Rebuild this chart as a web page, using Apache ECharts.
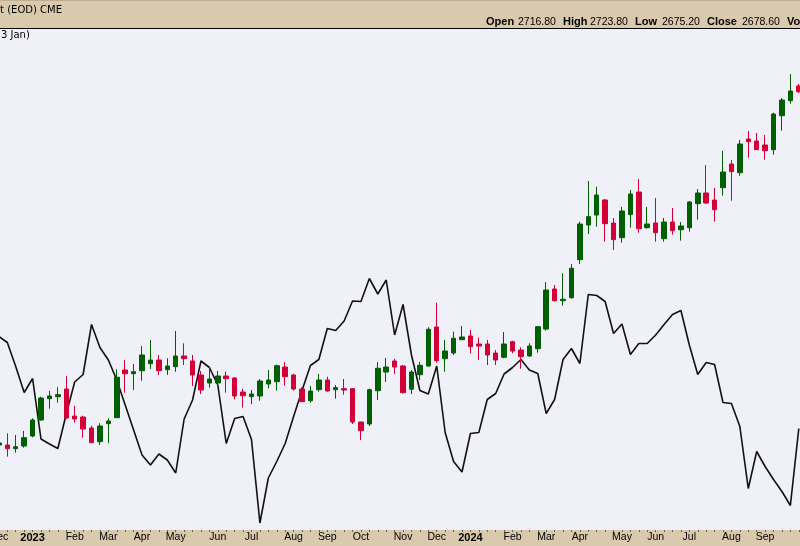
<!DOCTYPE html>
<html><head><meta charset="utf-8">
<script src="https://cdn.jsdelivr.net/npm/echarts@6/dist/echarts.min.js"></script>
<style>html,body{margin:0;padding:0;background:#f0f0f8}#c{width:800px;height:546px}</style>
</head><body><div id="c"></div>
<script>
const weeks = [
'2022-12-05','2022-12-12','2022-12-19','2022-12-26',
'2023-01-02','2023-01-09','2023-01-16','2023-01-23','2023-01-30',
'2023-02-06','2023-02-13','2023-02-20','2023-02-27',
'2023-03-06','2023-03-13','2023-03-20','2023-03-27',
'2023-04-03','2023-04-10','2023-04-17','2023-04-24',
'2023-05-01','2023-05-08','2023-05-15','2023-05-22','2023-05-29',
'2023-06-05','2023-06-12','2023-06-19','2023-06-26',
'2023-07-03','2023-07-10','2023-07-17','2023-07-24','2023-07-31',
'2023-08-07','2023-08-14','2023-08-21','2023-08-28',
'2023-09-04','2023-09-11','2023-09-18','2023-09-25',
'2023-10-02','2023-10-09','2023-10-16','2023-10-23','2023-10-30',
'2023-11-06','2023-11-13','2023-11-20','2023-11-27',
'2023-12-04','2023-12-11','2023-12-18','2023-12-25',
'2024-01-01','2024-01-08','2024-01-15','2024-01-22','2024-01-29',
'2024-02-05','2024-02-12','2024-02-19','2024-02-26',
'2024-03-04','2024-03-11','2024-03-18','2024-03-25',
'2024-04-01','2024-04-08','2024-04-15','2024-04-22','2024-04-29',
'2024-05-06','2024-05-13','2024-05-20','2024-05-27',
'2024-06-03','2024-06-10','2024-06-17','2024-06-24',
'2024-07-01','2024-07-08','2024-07-15','2024-07-22','2024-07-29',
'2024-08-05','2024-08-12','2024-08-19','2024-08-26',
'2024-09-02','2024-09-09','2024-09-16','2024-09-23','2024-09-30'];

const opens = [1812.5,1812.5,1803.3,1810,1835,1875,1928.3,1933.3,1952.5,1885,1882.5,1855,1820.8,1865.8,1880.8,2000,1990.8,1998.3,2015.8,2025,2000.8,2008.3,2035,2022.5,1987.5,1967.5,1967.5,1985,1980,1945,1933.3,1935,1965,1970.8,2007.5,1987.5,1952.5,1923.3,1950.8,1975,1950.8,1953.3,1953.3,1870,1865,1948.3,1995,2022.5,2010,1951.8,1988.3,2010,2107.5,2028.3,2042.5,2075.8,2085,2065,2065,2042.5,2031.8,2070.8,2050,2035,2053.3,2102.5,2202.5,2173.3,2180.8,2275.8,2362.5,2387.5,2425,2367.5,2330.8,2388.3,2445,2355.8,2367.5,2328.3,2370,2350.8,2355.8,2415.8,2442.5,2425,2455.8,2515,2493.3,2577.5,2572.5,2562.5,2550.8,2635.8,2673.3,2710];
const closes = [1817.5,1803.3,1808.3,1830.8,1875,1930,1935,1938.3,1880,1877.5,1852.5,1818.3,1860,1872.5,1981.8,1990.8,1995.8,2037.5,2025,1998.3,2010,2035,2028.3,1987.5,1950,1977.5,1985,1978.3,1935,1935.8,1940,1972.5,1975,2010.8,1983.3,1952.5,1920.8,1947.5,1975,1947.5,1955.8,1950,1870,1848.3,1950.8,2004.3,2007.5,2007.5,1943.3,1995,2011.8,2101.8,2023.3,2047.5,2079.3,2082.5,2058.3,2060,2037.5,2025,2065,2047.5,2033.3,2060,2108.3,2200,2173.3,2176.8,2254.3,2365,2383.3,2437.5,2365.8,2325.8,2397.5,2440,2353.3,2365,2343.3,2370,2348.3,2360,2420,2442.5,2417.5,2400.8,2495,2495.8,2565,2570.8,2550.8,2548.3,2640,2675,2697.5,2695.8];
const lows = [1807.5,1783.3,1793.3,1805.8,1831.8,1873.3,1903.3,1918.3,1878.8,1868.3,1830.8,1817.5,1812.5,1816.8,1880,1943.3,1950,1973.3,2002.5,1987.5,1987.5,1995.8,2012.5,1960,1940,1955.8,1956.8,1943.3,1926.8,1905.8,1914.3,1923.3,1954.3,1948.3,1960.8,1948.3,1920.8,1918.3,1945.8,1945.8,1928.3,1938.3,1865,1825,1860,1925,1970,1990,1941.3,1940,1975,2008.3,2018.3,1995.8,2037.5,2075.8,2041.8,2025,2012.5,2012.5,2029.3,2041.8,2003.3,2033.3,2043.3,2098.3,2170.8,2160.8,2178.3,2265,2340,2358.3,2320.8,2300,2318.3,2355.8,2343.3,2353.3,2320.8,2320.8,2338.3,2323.3,2345.8,2375.8,2415,2370.8,2435.8,2423.3,2485.8,2530.8,2550.8,2525.8,2538.3,2598.3,2665.8,2692.5];
const highs = [1822.5,1841.8,1837.5,1847.5,1879.3,1933.3,1947.5,1956.8,1985,1910,1885.8,1860.8,1866.8,1879.3,2001.8,2025,2015,2060,2075,2037.5,2029.3,2097.5,2066.8,2037.5,1997.5,2008.3,1997.5,1995.8,1982.5,1952.5,1950,1977.5,2000,2013.3,2020,1990.8,1956.8,1960,1990,1983.3,1962.5,1977.5,1955,1870,1953.3,2020,2030,2027.5,2012.5,2000,2020,2106.8,2168.3,2075,2095.8,2110,2100,2080.8,2075,2050,2095,2073.3,2056.8,2066.8,2110,2220,2212.5,2241.8,2265,2370.8,2472.5,2458.3,2427.5,2380,2407.5,2450,2477.5,2407.5,2430,2380,2405,2370,2422.5,2452.5,2512.5,2455,2547.5,2525,2575,2597.5,2592.5,2587.5,2643.3,2680,2740,2715];

const lineValues = [38.7,37.5,32.7,27.5,30.3,18.2,17.2,16.3,23.2,29.6,31.1,41.1,36.5,34.0,30.0,25.0,20.0,15.0,13.0,15.2,14.0,11.4,22.2,26.0,33.8,32.5,29.0,17.3,22.3,22.7,18.1,1.4,10.4,13.7,17.3,22.7,27.9,32.9,34.1,40.3,39.9,41.8,45.8,45.7,50.3,47.2,50.0,39.0,45.1,35.0,27.9,27.2,32.8,19.5,13.7,11.6,19.3,19.5,26.1,27.3,31.2,32.5,34.1,32.0,31.3,23.3,26.1,34.1,36.3,33.3,47.1,46.9,45.7,39.3,41.2,35.1,37.3,37.3,39.0,41.1,43.1,43.9,37.0,31.1,33.5,33.1,25.5,25.3,20.7,8.3,15.7,12.7,10.1,7.7,4.9,20.3];

const tickDates = ['2022-12-05','2023-01-02','2023-02-06','2023-03-06','2023-04-03','2023-05-01','2023-06-05','2023-07-03','2023-08-07','2023-09-04','2023-10-02','2023-11-06','2023-12-04','2024-01-01','2024-02-05','2024-03-04','2024-04-01','2024-05-06','2024-06-03','2024-07-01','2024-08-05','2024-09-02'];
const tickTexts = ['Dec','2023','Feb','Mar','Apr','May','Jun','Jul','Aug','Sep','Oct','Nov','Dec','2024','Feb','Mar','Apr','May','Jun','Jul','Aug','Sep'];

const titleText = 'Continuous Contract (EOD) CME';
const subText = '3 Jan)';
const ohlcLabels = ['Open','High','Low','Close','Volume'];
const ohlcValues = ['2716.80','2723.80','2675.20','2678.60',''];

const candleData = weeks.map((w,i)=>[opens[i],closes[i],lows[i],highs[i]]);

const TAN = '#d9c9ad';
const chart = echarts.init(document.getElementById('c'), null, {renderer:'canvas'});

const labelX = [486,563,635,707,787];
const valueX = [518,590,662,742,0];
const hdrEls = [];
ohlcLabels.forEach((t,i)=>{
  hdrEls.push({type:'text', z:20, left:labelX[i], top:16.5, style:{text:t, font:'bold 11px "Liberation Sans", Arial', fill:'#000'}});
  if (ohlcValues[i]) hdrEls.push({type:'text', z:20, left:valueX[i], top:17, style:{text:ohlcValues[i], font:'10.5px "Liberation Sans", Arial', fill:'#000'}});
});

chart.setOption({
  backgroundColor:'#f0f0f8',
  animation:false,
  graphic:{elements:[
    {type:'rect', z:-5, shape:{x:0,y:0,width:800,height:28}, style:{fill:TAN}},
    {type:'line', z:-4, shape:{x1:0,y1:0.5,x2:800,y2:0.5}, style:{stroke:'#bfae92', lineWidth:1}},
    {type:'line', z:-4, shape:{x1:0,y1:28.5,x2:800,y2:28.5}, style:{stroke:'#000', lineWidth:1}},
    {type:'rect', z:-5, shape:{x:0,y:530,width:800,height:16}, style:{fill:TAN}},
    {type:'text', z:20, style:{text:titleText, x:62, y:10, align:'right', verticalAlign:'middle', font:'10px "DejaVu Sans"', fill:'#000'}},
    {type:'text', z:20, style:{text:subText, x:1, y:35.5, align:'left', verticalAlign:'middle', font:'10px "DejaVu Sans"', fill:'#000'}},
    ...hdrEls
  ]},
  grid:{left:-5.31, right:-3, top:29, bottom:16, containLabel:false, outerBoundsMode:'none'},
  xAxis:{
    type:'category', data:weeks, boundaryGap:true, z:10,
    axisLine:{show:false},
    axisTick:{show:true, interval:0, alignWithLabel:true, length:2, lineStyle:{color:'#6b604f', width:1}},
    axisLabel:{
      interval:(idx,val)=>tickDates.indexOf(val)>=0,
      margin:2, color:'#000', lineHeight:11,
      formatter:(val)=>{const t=tickTexts[tickDates.indexOf(val)]; return /^\d{4}$/.test(t)?'{y|'+t+'}':'{m|'+t+'}';},
      rich:{y:{fontWeight:'bold', fontSize:11, fontFamily:'Liberation Sans', color:'#000', lineHeight:11},
            m:{fontSize:10.5, fontFamily:'Liberation Sans', color:'#000', lineHeight:11}}
    },
    splitLine:{show:false}
  },
  yAxis:[
    {type:'value', min:1600, max:2852.5, show:false, splitLine:{show:false}},
    {type:'value', min:0, max:100.2, show:false, splitLine:{show:false}}
  ],
  series:[
    {type:'line', name:'Indicator', yAxisIndex:1, data:lineValues, symbol:'none', z:1,
     lineStyle:{color:'#111', width:1.6}},
    {type:'candlestick', name:'Gold', yAxisIndex:0, data:candleData, barWidth:5, z:2,
     itemStyle:{color:'#005f00', color0:'#d20037', borderColor:'#005f00', borderColor0:'#d20037', borderWidth:1}}
  ]
});
</script></body></html>
